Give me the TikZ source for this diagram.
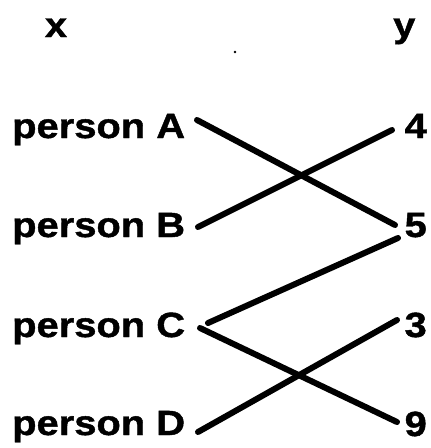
\documentclass[tikz,border=0pt]{standalone}
\usepackage{fontspec}
\setmainfont{Liberation Sans}
\newfontfamily\lblfont{Liberation Sans Bold}[FakeStretch=1.14,FakeBold=1.2]
\begin{document}
\begin{tikzpicture}[x=1pt,y=-1pt,
  lbl/.style={inner sep=0pt,font=\lblfont\fontsize{35}{38}\selectfont},
  link/.style={line width=6pt,line cap=round}]
\useasboundingbox (0,0) rectangle (431,448);
\node[lbl,anchor=base] (hx) at (56,37) {x};
\node[lbl,anchor=base west] (hy) at (393,37) {y};
\fill (235,52) circle (1.3pt);
\node[lbl,anchor=base west] (pA) at (12,138) {person A};
\node[lbl,anchor=base west] (pB) at (12,237) {person B};
\node[lbl,anchor=base west] (pC) at (12,337) {person C};
\node[lbl,anchor=base west] (pD) at (12,435) {person D};
\node[lbl,anchor=base east] (n4) at (427,138) {4};
\node[lbl,anchor=base east] (n5) at (427,237) {5};
\node[lbl,anchor=base east] (n3) at (427,337) {3};
\node[lbl,anchor=base east] (n9) at (427,436) {9};
\coordinate (a1) at (197,120); \coordinate (a2) at (395,225);
\coordinate (b1) at (198,227); \coordinate (b2) at (392,130);
\coordinate (c1) at (208,323); \coordinate (c2) at (398,238);
\coordinate (e1) at (200,328); \coordinate (e2) at (397,422);
\coordinate (d1) at (198,432); \coordinate (d2) at (397,320);
\draw[link] (a1) -- (a2);
\draw[link] (b1) -- (b2);
\draw[link] (c2) -- (c1);
\draw[link] (e1) -- (e2);
\draw[link] (d1) -- (d2);
\end{tikzpicture}
\end{document}
